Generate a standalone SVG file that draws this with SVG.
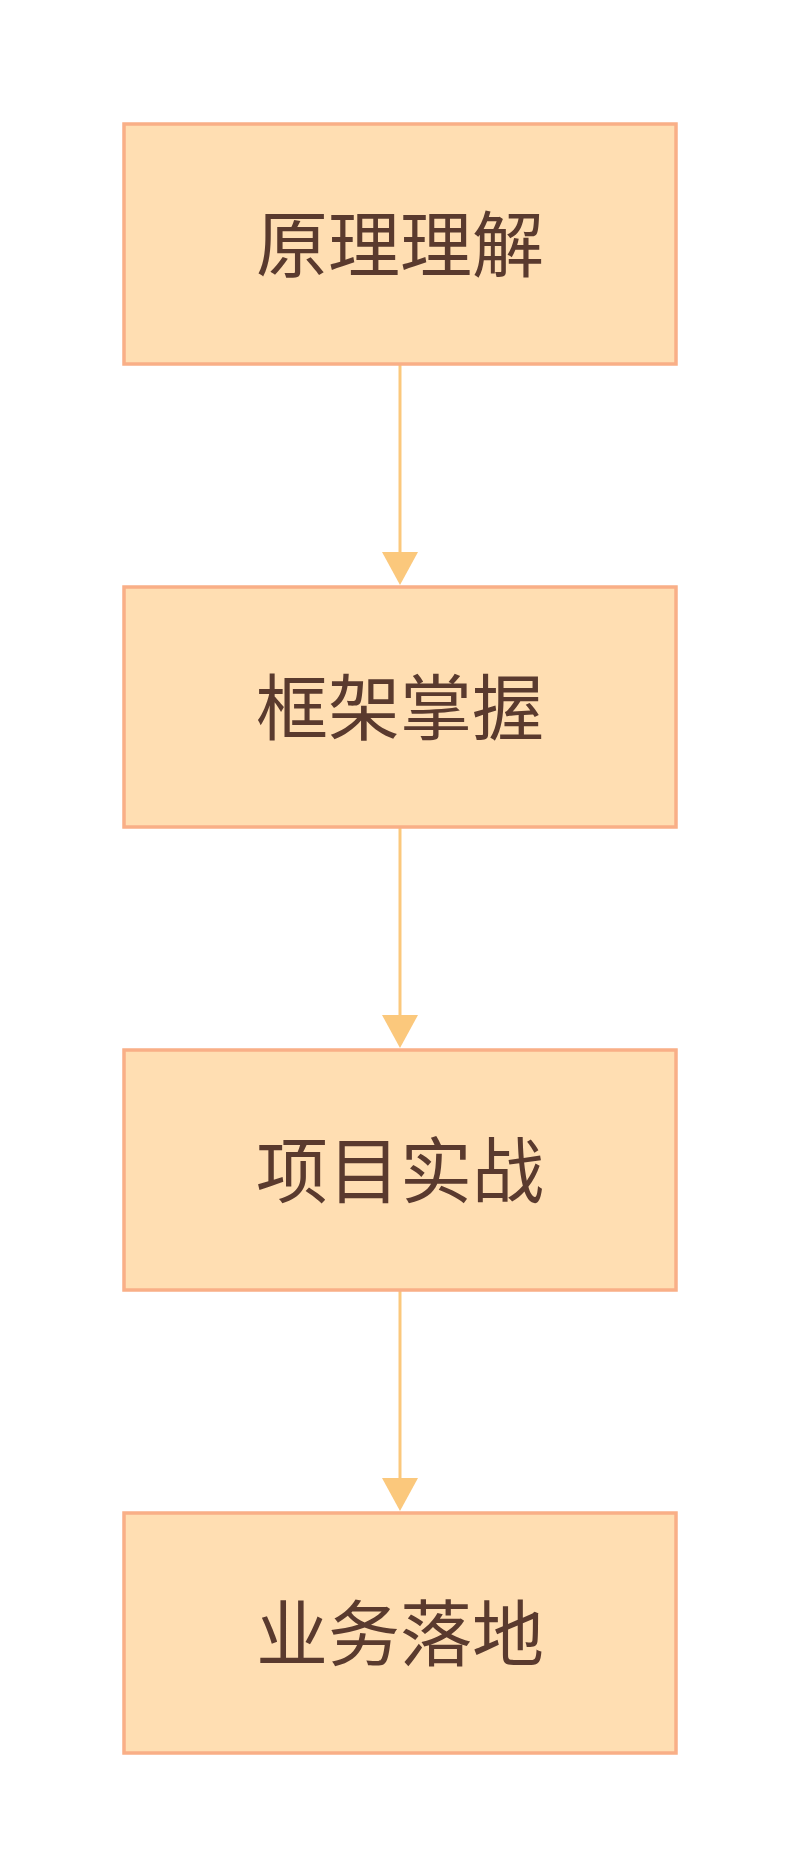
<svg xmlns="http://www.w3.org/2000/svg" width="800" height="1876" viewBox="0 0 800 1876">
<style>
.box{fill:#FFDEB2;stroke:#F9AF87;stroke-width:3.5}
.lbl{font-family:"Noto Sans CJK SC","Noto Sans",sans-serif;font-size:72px;fill:#5A3A2E;text-anchor:middle;dominant-baseline:central}
.edge{stroke:#FBC87C;stroke-width:3;fill:none}
.head{fill:#FBC87C}
</style>
<rect width="800" height="1876" fill="#FFFFFF"/>
<g id="connectors">
<line class="edge" x1="400" y1="364" x2="400" y2="555"/>
<polygon class="head" points="382,552 418,552 400,585"/>
<line class="edge" x1="400" y1="827" x2="400" y2="1018"/>
<polygon class="head" points="382,1015 418,1015 400,1048"/>
<line class="edge" x1="400" y1="1290" x2="400" y2="1481"/>
<polygon class="head" points="382,1478 418,1478 400,1511"/>
</g>
<g id="n1"><rect class="box" x="124" y="124" width="552" height="240"/><text class="lbl" x="400" y="239">原理理解</text></g>
<g id="n2"><rect class="box" x="124" y="587" width="552" height="240"/><text class="lbl" x="400" y="702">框架掌握</text></g>
<g id="n3"><rect class="box" x="124" y="1050" width="552" height="240"/><text class="lbl" x="400" y="1165">项目实战</text></g>
<g id="n4"><rect class="box" x="124" y="1513" width="552" height="240"/><text class="lbl" x="400" y="1628">业务落地</text></g>
</svg>
